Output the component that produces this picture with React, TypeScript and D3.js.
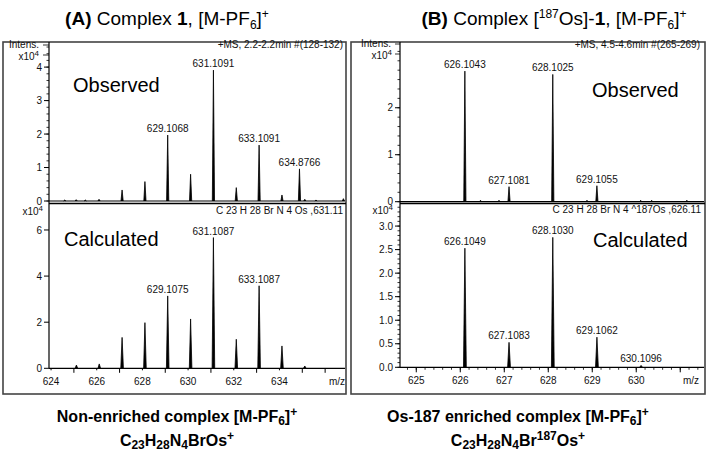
import React from "react";
import * as d3 from "d3";

// ---------- DATA ----------
// Panel A, observed (top)
const obsA_mz = [624.6, 625.1, 625.5, 626.1, 627.11, 628.11, 629.1068, 630.11, 631.1091, 632.11, 633.1091, 634.11, 634.8766, 635.11, 635.6, 636.8];
const obsA_int = [0.03, 0.04, 0.03, 0.05, 0.33, 0.58, 1.97, 0.8, 3.91, 0.4, 1.67, 0.18, 0.96, 0.05, 0.03, 0.07];
const obsA_lbl = ["", "", "", "", "", "", "629.1068", "", "631.1091", "", "633.1091", "", "634.8766", "", "", ""];
// Panel A, calculated (bottom)
const calcA_mz = [625.11, 626.11, 627.11, 628.11, 629.1075, 630.11, 631.1087, 632.11, 633.1087, 634.11, 635.11];
const calcA_int = [0.14, 0.19, 1.34, 1.98, 3.14, 2.14, 5.67, 1.26, 3.58, 0.97, 0.1];
const calcA_lbl = ["", "", "", "", "629.1075", "", "631.1087", "", "633.1087", "", ""];
// Panel B, observed (top)
const obsB_mz = [626.1043, 626.46, 626.88, 627.1081, 628.1025, 628.88, 629.1055, 630.1, 630.35, 631.15];
const obsB_int = [2.78, 0.03, 0.03, 0.32, 2.71, 0.03, 0.34, 0.03, 0.03, 0.03];
const obsB_lbl = ["626.1043", "", "", "627.1081", "628.1025", "", "629.1055", "", "", ""];
// Panel B, calculated (bottom)
const calcB_mz = [626.1049, 627.1083, 628.103, 629.1062, 630.1096];
const calcB_int = [2.53, 0.53, 2.76, 0.64, 0.04];
const calcB_lbl = ["626.1049", "627.1083", "628.1030", "629.1062", "630.1096"];

// Axis ticks
const yTicksAtop = [0, 1, 2, 3, 4];
const yTicksAbot = [0, 2, 4, 6];
const xLabelsA = [624, 626, 628, 630, 632, 634];
const yTicksBtop = [0, 1, 2];
const yTicksBbot = [0, 0.5, 1, 1.5, 2, 2.5, 3];
const xLabelsB = [625, 626, 627, 628, 629, 630];

const FONT = "'Liberation Sans', Arial, Helvetica, sans-serif";

type Sc = d3.ScaleLinear<number, number>;

function Peaks({ mz, inten, labels, x, y, hw = 1.3 }: { mz: number[]; inten: number[]; labels: string[]; x: Sc; y: Sc; hw?: number }) {
  const line = d3.line<[number, number]>().x((d) => d[0]).y((d) => d[1]);
  const y0 = y(0);
  return (
    <g>
      {mz.map((m, i) => {
        const px = x(m);
        const pts: [number, number][] = [
          [px - hw, y0],
          [px, y(inten[i])],
          [px + hw, y0],
        ];
        return <path key={i} d={line(pts) || ""} fill="#000" stroke="#000" strokeWidth={0.8} />;
      })}
      {mz.map((m, i) =>
        labels[i] ? (
          <text key={"l" + i} x={x(m)} y={y(inten[i]) - 3} textAnchor="middle" fontSize={10} fontFamily={FONT} fill="#111">
            {labels[i]}
          </text>
        ) : null
      )}
    </g>
  );
}

function YAxis({ y, ax, ticks, minor, fmt, top, bottom }: { y: Sc; ax: number; ticks: number[]; minor: number[]; fmt: (v: number) => string; top: number; bottom: number }) {
  return (
    <g fontFamily={FONT} fontSize={10} fill="#111">
      <line x1={ax} x2={ax} y1={top} y2={bottom} stroke="#000" strokeWidth={1.2} />
      {minor.map((v, i) => (
        <line key={"m" + i} x1={ax - 2.5} x2={ax} y1={y(v)} y2={y(v)} stroke="#000" strokeWidth={0.8} />
      ))}
      {ticks.map((v, i) => (
        <g key={i}>
          <line x1={ax - 5} x2={ax} y1={y(v)} y2={y(v)} stroke="#000" strokeWidth={1} />
          <text x={ax - 7} y={y(v) + 3.6} textAnchor="end">
            {fmt(v)}
          </text>
        </g>
      ))}
    </g>
  );
}

function Exp({ x, y }: { x: number; y: number }) {
  return (
    <text x={x} y={y} textAnchor="end" fontFamily={FONT} fontSize={10} fill="#111">
      x10
      <tspan fontSize={8} dy={-4}>
        4
      </tspan>
    </text>
  );
}

export default function App() {
  const W = 708;
  const H = 452;

  const xA = d3.scaleLinear().domain([623.91, 636.87]).range([49, 345]);
  const yAt = d3.scaleLinear().domain([0, 4.75]).range([201, 42]);
  const yAb = d3.scaleLinear().domain([0, 7.17]).range([368.3, 203]);
  const xB = d3.scaleLinear().domain([624.63, 631.54]).range([400, 704]);
  const yBt = d3.scaleLinear().domain([0, 3.4]).range([201.7, 42]);
  const yBb = d3.scaleLinear().domain([0, 3.49]).range([367.3, 203]);

  const minorAtop = d3.range(0, 4.7, 0.2);
  const minorBtop = d3.range(0, 3.4, 0.2);
  const minorBbot = d3.range(0, 3.45, 0.1);

  const xTicksA = d3.range(624, 637, 1);
  const xTicksBminor = d3.range(624.8, 631.5, 0.2);
  const xTicksBmajor = d3.range(625, 632, 1);

  const fmt0 = (v: number) => String(v);
  const fmt1 = (v: number) => v.toFixed(1);

  const subSup = { fontSize: 12 };
  const cs = 12; // caption sub/sup size

  return (
    <svg width={W} height={H} viewBox={`0 0 ${W} ${H}`} style={{ position: "absolute", left: 0, top: 0, background: "#fff" }}>
      <rect x={0} y={0} width={W} height={H} fill="#fff" />

      {/* Titles */}
      <text x={167} y={25} textAnchor="middle" fontFamily={FONT} fontSize={19} fill="#000">
        <tspan fontWeight="bold">(A)</tspan> Complex <tspan fontWeight="bold">1</tspan>, [M-PF
        <tspan {...subSup} dy={4}>6</tspan>
        <tspan dy={-4}>]</tspan>
        <tspan {...subSup} dy={-7}>+</tspan>
      </text>
      <text x={554} y={25} textAnchor="middle" fontFamily={FONT} fontSize={19} fill="#000">
        <tspan fontWeight="bold">(B)</tspan> Complex [<tspan {...subSup} dy={-7}>187</tspan>
        <tspan dy={7}>Os]-</tspan>
        <tspan fontWeight="bold">1</tspan>, [M-PF
        <tspan {...subSup} dy={4}>6</tspan>
        <tspan dy={-4}>]</tspan>
        <tspan {...subSup} dy={-7}>+</tspan>
      </text>

      {/* Frames */}
      <rect x={3} y={42} width={343} height={352} fill="none" stroke="#444" strokeWidth={1.6} />
      <rect x={351} y={42} width={354} height={352} fill="none" stroke="#444" strokeWidth={1.6} />

      {/* ----- Panel A ----- */}
      <YAxis y={yAt} ax={49} ticks={yTicksAtop} minor={minorAtop} fmt={fmt0} top={42} bottom={203} />
      <YAxis y={yAb} ax={49} ticks={yTicksAbot} minor={[]} fmt={fmt0} top={203} bottom={368.3} />
      <text x={39} y={47.5} textAnchor="end" fontFamily={FONT} fontSize={10} fill="#111">Intens.</text>
      <line x1={43} x2={49} y1={45} y2={45} stroke="#000" strokeWidth={0.8} />
      <Exp x={39} y={60} />
      <line x1={43} x2={49} y1={55} y2={55} stroke="#000" strokeWidth={0.8} />
      <Exp x={43} y={215} />
      <text x={343} y={48} textAnchor="end" fontFamily={FONT} fontSize={10} fill="#111">+MS, 2.2-2.2min #(128-132)</text>
      <text x={73} y={92} fontFamily={FONT} fontSize={20} fill="#000">Observed</text>
      {/* baseline of observed */}
      <line x1={49} x2={345} y1={yAt(0)} y2={yAt(0)} stroke="#000" strokeWidth={1.2} />
      <Peaks mz={obsA_mz} inten={obsA_int} labels={obsA_lbl} x={xA} y={yAt} hw={1.1} />
      {/* divider */}
      <line x1={49} x2={346} y1={203.5} y2={203.5} stroke="#000" strokeWidth={1.6} />
      <text x={343} y={214} textAnchor="end" fontFamily={FONT} fontSize={10} fill="#111">C 23 H 28 Br N 4 Os  ,631.11</text>
      <text x={64} y={246} fontFamily={FONT} fontSize={20} fill="#000">Calculated</text>
      <Peaks mz={calcA_mz} inten={calcA_int} labels={calcA_lbl} x={xA} y={yAb} hw={1.3} />
      {/* x axis A */}
      <line x1={49} x2={345} y1={yAb(0)} y2={yAb(0)} stroke="#000" strokeWidth={1.2} />
      {xTicksA.map((v) => (
        <line key={v} x1={xA(v)} x2={xA(v)} y1={yAb(0)} y2={yAb(0) + (v % 2 === 1 || v === 636 ? 4.5 : 2)} stroke="#000" strokeWidth={1} />
      ))}
      <g fontFamily={FONT} fontSize={10} fill="#111" textAnchor="middle">
        {xLabelsA.map((v) => (
          <text key={v} x={xA(v)} y={385}>{v}</text>
        ))}
        <text x={337} y={385}>m/z</text>
      </g>

      {/* ----- Panel B ----- */}
      <YAxis y={yBt} ax={400} ticks={yTicksBtop} minor={minorBtop} fmt={fmt0} top={42} bottom={203} />
      <YAxis y={yBb} ax={400} ticks={yTicksBbot} minor={minorBbot} fmt={fmt1} top={203} bottom={367.3} />
      <text x={391} y={47} textAnchor="end" fontFamily={FONT} fontSize={10} fill="#111">Intens.</text>
      <line x1={395} x2={400} y1={44} y2={44} stroke="#000" strokeWidth={0.8} />
      <Exp x={392} y={59} />
      <line x1={395} x2={400} y1={54} y2={54} stroke="#000" strokeWidth={0.8} />
      <Exp x={393} y={214} />
      <text x={700} y={48} textAnchor="end" fontFamily={FONT} fontSize={10} fill="#111">+MS, 4.5-4.6min #(265-269)</text>
      <text x={592} y={97} fontFamily={FONT} fontSize={20} fill="#000">Observed</text>
      <line x1={400} x2={704} y1={yBt(0)} y2={yBt(0)} stroke="#000" strokeWidth={1.2} />
      <Peaks mz={obsB_mz} inten={obsB_int} labels={obsB_lbl} x={xB} y={yBt} hw={1.1} />
      <line x1={400} x2={705} y1={203.5} y2={203.5} stroke="#000" strokeWidth={1.6} />
      <text x={701} y={213} textAnchor="end" fontFamily={FONT} fontSize={10} fill="#111">C 23 H 28 Br N 4 ^187Os   ,626.11</text>
      <text x={593} y={247} fontFamily={FONT} fontSize={20} fill="#000">Calculated</text>
      <Peaks mz={calcB_mz} inten={calcB_int} labels={calcB_lbl} x={xB} y={yBb} hw={1.4} />
      <line x1={400} x2={704} y1={yBb(0)} y2={yBb(0)} stroke="#000" strokeWidth={1.2} />
      {xTicksBminor.map((v, i) => (
        <line key={"bm" + i} x1={xB(v)} x2={xB(v)} y1={yBb(0)} y2={yBb(0) + 2.5} stroke="#000" strokeWidth={0.8} />
      ))}
      {xTicksBmajor.map((v) => (
        <line key={"bM" + v} x1={xB(v)} x2={xB(v)} y1={yBb(0)} y2={yBb(0) + 5} stroke="#000" strokeWidth={1} />
      ))}
      <g fontFamily={FONT} fontSize={10} fill="#111" textAnchor="middle">
        {xLabelsB.map((v) => (
          <text key={v} x={xB(v)} y={384}>{v}</text>
        ))}
        <text x={691} y={384}>m/z</text>
      </g>

      {/* Captions */}
      <g fontFamily={FONT} fontWeight="bold" fontSize={16} fill="#000" textAnchor="middle">
        <text x={177} y={422}>
          Non-enriched complex [M-PF<tspan fontSize={cs} dy={3}>6</tspan>
          <tspan dy={-3}>]</tspan>
          <tspan fontSize={cs} dy={-6}>+</tspan>
        </text>
        <text x={177} y={446}>
          C<tspan fontSize={cs} dy={3}>23</tspan>
          <tspan dy={-3}>H</tspan>
          <tspan fontSize={cs} dy={3}>28</tspan>
          <tspan dy={-3}>N</tspan>
          <tspan fontSize={cs} dy={3}>4</tspan>
          <tspan dy={-3}>BrOs</tspan>
          <tspan fontSize={cs} dy={-6}>+</tspan>
        </text>
        <text x={518} y={422}>
          Os-187 enriched complex [M-PF<tspan fontSize={cs} dy={3}>6</tspan>
          <tspan dy={-3}>]</tspan>
          <tspan fontSize={cs} dy={-6}>+</tspan>
        </text>
        <text x={518} y={446}>
          C<tspan fontSize={cs} dy={3}>23</tspan>
          <tspan dy={-3}>H</tspan>
          <tspan fontSize={cs} dy={3}>28</tspan>
          <tspan dy={-3}>N</tspan>
          <tspan fontSize={cs} dy={3}>4</tspan>
          <tspan dy={-3}>Br</tspan>
          <tspan fontSize={cs} dy={-6}>187</tspan>
          <tspan dy={6}>Os</tspan>
          <tspan fontSize={cs} dy={-6}>+</tspan>
        </text>
      </g>
    </svg>
  );
}
